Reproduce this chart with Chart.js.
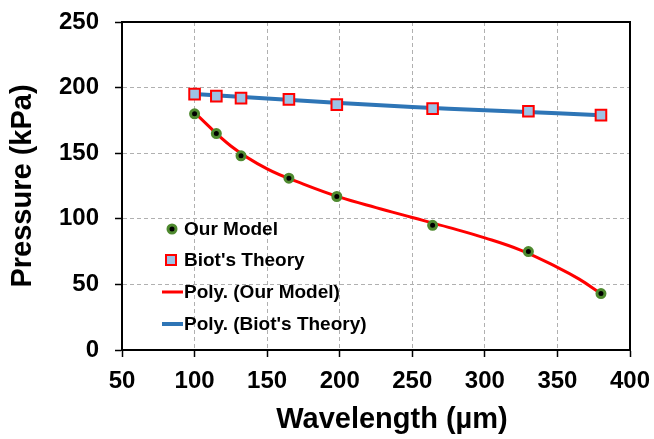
<!DOCTYPE html>
<html>
<head>
<meta charset="utf-8">
<script src="https://cdn.jsdelivr.net/npm/chart.js@4/dist/chart.umd.min.js"></script>
<style>
  html, body { margin: 0; padding: 0; background: #ffffff; }
  #wrap { position: relative; width: 654px; height: 439px; }
</style>
</head>
<body>
<div id="wrap"><canvas id="c" width="654" height="439"></canvas></div>
<script>
// ---- data ----
const wavelengths = [100, 115, 132, 165, 198, 264, 330, 380];
const ourModel    = [180, 165, 148, 131, 117, 95, 75, 43];
const biotTheory  = [195, 193.5, 192, 191, 187, 184, 182, 179];
// trendline curves
const trendOurX   = [100, 125, 150, 175, 200, 225, 250, 275, 300, 325, 350, 365, 380];
const trendOurY   = [181, 155.5, 138, 126.5, 116.5, 108.5, 101, 93.5, 85.5, 76, 63, 54, 43];
const trendBiotX  = [100, 150, 200, 250, 300, 350, 380];
const trendBiotY  = [195.2, 191.7, 188.3, 185.3, 182.7, 180.5, 179];
const xTicks = [50, 100, 150, 200, 250, 300, 350, 400];
const yTicks = [0, 50, 100, 150, 200, 250];
const seriesNames = ["Our Model", "Biot's Theory", "Poly. (Our Model)", "Poly. (Biot's Theory)"];
const xTitle = "Wavelength (µm)";
const yTitle = "Pressure (kPa)";

const FONT = "'Liberation Sans', Arial, sans-serif";
const GREEN = '#4f8a2f';
const RED = '#ff0000';
const BLUE = '#2e75b6';
const SQFILL = '#9dc3e6';

const toPts = (xs, ys) => xs.map((x, i) => ({x: x, y: ys[i]}));

const extras = {
  id: 'extras',
  afterDraw(chart) {
    const {ctx, chartArea: a} = chart;
    ctx.save();
    ctx.strokeStyle = '#000000';
    ctx.lineWidth = 2;
    ctx.beginPath();
    ctx.moveTo(a.left, a.top);
    ctx.lineTo(a.right, a.top);
    ctx.lineTo(a.right, a.bottom);
    ctx.stroke();

    ctx.fillStyle = '#000000';
    ctx.font = 'bold 29px ' + FONT;
    ctx.textAlign = 'center';
    ctx.textBaseline = 'middle';
    ctx.fillText(xTitle, 392, 420);

    ctx.font = 'bold 19px ' + FONT;
    ctx.textAlign = 'left';
    ctx.textBaseline = 'middle';
    const rows = [229, 260, 292, 324];
    const tx = 184;
    ctx.beginPath();
    ctx.arc(172, rows[0], 4, 0, Math.PI * 2);
    ctx.fillStyle = '#000000';
    ctx.fill();
    ctx.lineWidth = 3;
    ctx.strokeStyle = GREEN;
    ctx.stroke();
    ctx.fillStyle = SQFILL;
    ctx.fillRect(166, rows[1] - 5, 10, 10);
    ctx.lineWidth = 2;
    ctx.strokeStyle = RED;
    ctx.strokeRect(166, rows[1] - 5, 10, 10);
    ctx.lineWidth = 3;
    ctx.strokeStyle = RED;
    ctx.beginPath(); ctx.moveTo(162, rows[2]); ctx.lineTo(183, rows[2]); ctx.stroke();
    ctx.lineWidth = 4;
    ctx.strokeStyle = BLUE;
    ctx.beginPath(); ctx.moveTo(162, rows[3]); ctx.lineTo(183, rows[3]); ctx.stroke();

    ctx.fillStyle = '#000000';
    seriesNames.forEach((n, i) => ctx.fillText(n, tx, rows[i] + 1));
    ctx.restore();
  }
};

const zeroPad = s => { s.paddingTop = 0; s.paddingBottom = 0; s.paddingLeft = 0; s.paddingRight = 0; };

const axisCommon = {
  border: { display: true, color: '#000000', width: 2, dash: [4, 3] },
  grid: {
    color: '#b0b0b0',
    lineWidth: 1,
    tickColor: '#000000',
    tickLength: 7,
    tickBorderDash: [],
    tickWidth: 1.5
  }
};

new Chart(document.getElementById('c'), {
  type: 'scatter',
  data: {
    datasets: [
      {
        label: seriesNames[0],
        data: toPts(wavelengths, ourModel),
        pointStyle: 'circle',
        pointRadius: 4,
        pointBorderWidth: 3,
        pointBorderColor: GREEN,
        pointBackgroundColor: '#000000',
        showLine: false
      },
      {
        label: seriesNames[1],
        data: toPts(wavelengths, biotTheory),
        pointStyle: 'rect',
        pointRadius: 7.5,
        pointBorderWidth: 2,
        pointBorderColor: RED,
        pointBackgroundColor: SQFILL,
        showLine: false
      },
      {
        label: seriesNames[2],
        data: toPts(trendOurX, trendOurY),
        showLine: true,
        borderColor: RED,
        borderWidth: 3,
        pointRadius: 0,
        tension: 0.4,
        fill: false
      },
      {
        label: seriesNames[3],
        data: toPts(trendBiotX, trendBiotY),
        showLine: true,
        borderColor: BLUE,
        borderWidth: 4,
        pointRadius: 0,
        tension: 0.4,
        fill: false
      }
    ]
  },
  options: {
    responsive: false,
    animation: false,
    layout: { padding: { top: 22, right: 24, bottom: 0, left: 0 } },
    plugins: {
      legend: { display: false },
      tooltip: { enabled: false }
    },
    scales: {
      x: Object.assign({}, axisCommon, {
        type: 'linear',
        min: 50, max: 400,
        afterBuildTicks: s => { s.ticks = xTicks.map(v => ({value: v})); },
        afterFit: s => { s.height = 89; zeroPad(s); },
        ticks: {
          color: '#000000',
          padding: 10,
          maxRotation: 0,
          font: { family: FONT, size: 24, weight: 'bold' }
        },
        title: { display: false }
      }),
      y: Object.assign({}, axisCommon, {
        type: 'linear',
        min: 0, max: 250,
        afterBuildTicks: s => { s.ticks = yTicks.map(v => ({value: v})); },
        afterFit: s => { s.width = 122; zeroPad(s); },
        ticks: {
          color: '#000000',
          padding: 16,
          font: { family: FONT, size: 24, weight: 'bold' }
        },
        title: {
          display: true,
          text: yTitle,
          color: '#000000',
          padding: { top: 6, bottom: 0 },
          font: { family: FONT, size: 29, weight: 'bold' }
        }
      })
    }
  },
  plugins: [extras]
});
</script>
</body>
</html>
